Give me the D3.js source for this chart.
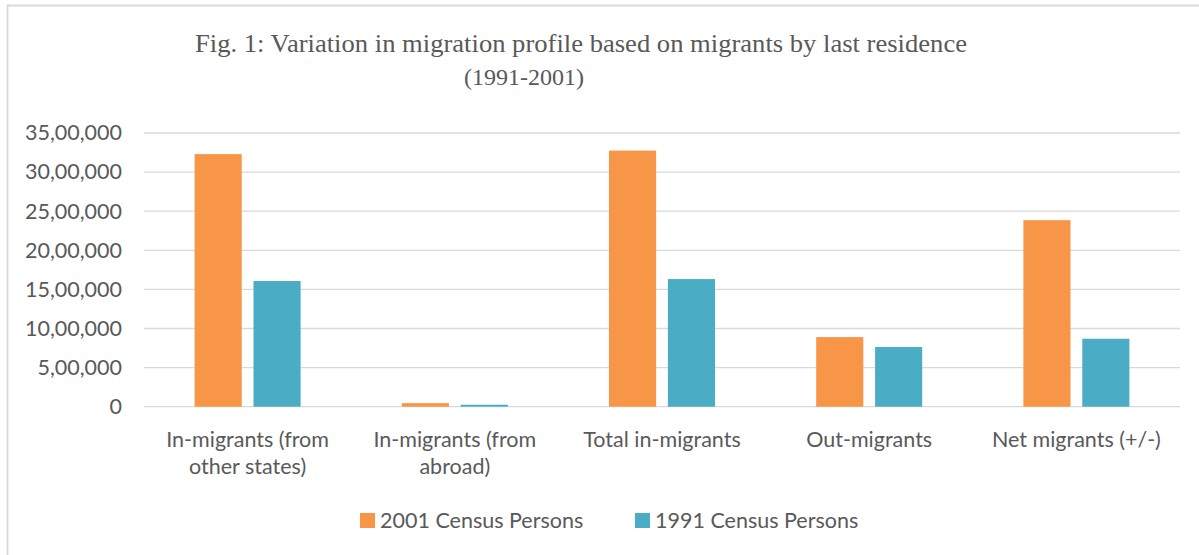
<!DOCTYPE html>
<html>
<head>
<meta charset="utf-8">
<script src="https://cdn.jsdelivr.net/npm/d3@7"></script>
<style>
  body { margin: 0; background: #fff; }
  svg text { fill: #595959; }
</style>
</head>
<body>
<svg id="chart" width="1199" height="555"></svg>
<script>
// chart data
const categories = [
  ["In-migrants (from", "other states)"],
  ["In-migrants (from", "abroad)"],
  ["Total in-migrants"],
  ["Out-migrants"],
  ["Net migrants (+/-)"]
];
const seriesNames = ["2001 Census Persons", "1991 Census Persons"];
const values2001 = [3230000, 45000, 3275000, 890000, 2385000];
const values1991 = [1607000, 25000, 1632000, 763000, 869000];
const yTicks = [0, 500000, 1000000, 1500000, 2000000, 2500000, 3000000, 3500000];
const yTickLabels = ["0", "5,00,000", "10,00,000", "15,00,000", "20,00,000", "25,00,000", "30,00,000", "35,00,000"];

const colors = ["#F79646", "#4BACC6"];
const labelFont = "Lato, 'Open Sans', sans-serif";

var svg = d3.select("#chart");

// chart area border (only top and left edges fall inside the picture)
svg.append("path")
  .attr("d", "M7.5,555 V5.5 H1199")
  .attr("fill", "none")
  .attr("stroke", "#d9d9d9")
  .attr("stroke-width", 1.8);

// title
svg.append("text")
  .attr("x", 195).attr("y", 52)
  .attr("textLength", 772)
  .attr("lengthAdjust", "spacingAndGlyphs")
  .style("font-family", "'Liberation Serif', 'Times New Roman', serif")
  .style("font-size", "25px")
  .text("Fig. 1: Variation in migration profile based on migrants by last residence");
svg.append("text")
  .attr("x", 524).attr("y", 85)
  .attr("text-anchor", "middle")
  .style("font-family", "'Liberation Serif', 'Times New Roman', serif")
  .style("font-size", "24px")
  .text("(1991-2001)");

var x = d3.scaleBand().domain(d3.range(categories.length)).range([144, 1180]);
var x1 = d3.scaleBand().domain([0, 1]).range([0, 106]).paddingInner(0.2);
var y = d3.scaleLinear().domain([0, 3500000]).range([406.7, 133]);

// gridlines
svg.append("g")
  .selectAll("line").data(yTicks).enter().append("line")
  .attr("x1", 144).attr("x2", 1180)
  .attr("y1", d => y(d)).attr("y2", d => y(d))
  .attr("stroke", "#d9d9d9")
  .attr("stroke-width", 1.3);

// y axis labels
var yAxis = d3.axisLeft(y)
  .tickValues(yTicks)
  .tickFormat((d, i) => yTickLabels[i])
  .tickSize(0)
  .tickPadding(22);
var ya = svg.append("g").attr("transform", "translate(144,0)").call(yAxis);
ya.select(".domain").remove();
ya.selectAll("text")
  .style("font-family", labelFont)
  .style("font-size", "21.5px")
  .attr("fill", "#595959");

// bars
const series = [values2001, values1991];
series.forEach(function(vals, s) {
  svg.append("g").selectAll("rect").data(vals).enter().append("rect")
    .attr("x", (d, i) => x(i) + (x.bandwidth() - 106) / 2 + x1(s))
    .attr("y", d => y(d))
    .attr("width", x1.bandwidth())
    .attr("height", d => y(0) - y(d))
    .attr("fill", colors[s]);
});

// x axis labels
var xl = svg.append("g").selectAll("text").data(categories).enter().append("text")
  .attr("x", (d, i) => x(i) + x.bandwidth() / 2)
  .attr("y", 447)
  .attr("text-anchor", "middle")
  .style("font-family", labelFont)
  .style("font-size", "21.5px");
xl.each(function(d) {
  var t = d3.select(this);
  d.forEach(function(line, j) {
    t.append("tspan")
      .attr("x", t.attr("x"))
      .attr("dy", j === 0 ? 0 : 27)
      .text(line);
  });
});

// legend
const legendX = [360, 635];
var legend = svg.append("g").selectAll("g").data(seriesNames).enter().append("g")
  .attr("transform", (d, i) => `translate(${legendX[i]}, 513)`);
legend.append("rect")
  .attr("width", 15).attr("height", 15)
  .attr("fill", (d, i) => colors[i]);
legend.append("text")
  .attr("x", 20).attr("y", 7.5)
  .attr("dy", "0.35em")
  .style("font-family", labelFont)
  .style("font-size", "21.5px")
  .text(d => d);
</script>
</body>
</html>
